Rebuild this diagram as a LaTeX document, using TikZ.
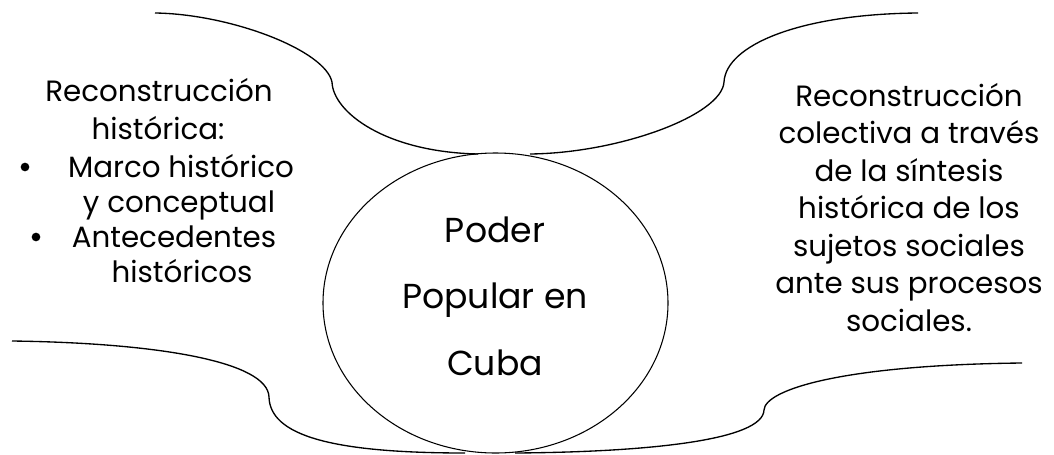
\documentclass[tikz,border=0pt]{standalone}
\usepackage{fontspec}
\setmainfont{Poppins}
\usetikzlibrary{shapes.geometric}
\tikzset{
    brace/.style={line width=1pt},
    txt/.style={anchor=base,inner sep=0pt,font=\fontsize{22}{27}\selectfont},
    bigtxt/.style={txt,font=\fontsize{26}{32}\selectfont},
    dot/.style={circle,fill,inner sep=0pt,minimum size=6.5pt},
}
\begin{document}
\begin{tikzpicture}[x=0.75pt,y=-0.75pt]
    \useasboundingbox (0,0) rectangle (1054,454);
    \node[ellipse,draw,line width=0.8pt,inner sep=0pt,minimum width=258.75pt,minimum height=225pt] (cuba) at (495.5,303) {} ;

    % braces
    \draw[brace] (155,13) .. controls (230,14) and (325,50) .. (332,82) .. controls (333,112) and (385,152) .. (478,154) ;
    \draw[brace] (530,154) .. controls (620,153) and (722,115) .. (724,82) .. controls (726,45) and (800,14) .. (918,13) ;
    \draw[brace] (12,341) .. controls (160,343) and (268,362) .. (269,397) .. controls (270,435) and (330,453) .. (465,453) ;
    \draw[brace] (515,453) .. controls (650,452) and (763,440) .. (764,410) .. controls (765,390) and (840,365) .. (1022,363) ;

    % center
    \node[bigtxt] (poder) at (495,242) {Poder} ;
    \node[bigtxt] (popular) at (495,308) {Popular en} ;
    \node[bigtxt] (cubatxt) at (495,375) {Cuba} ;

    % left
    \node[txt] (lhead1) at (159,101) {Reconstrucción} ;
    \node[txt] (lhead2) at (158,139) {histórica:} ;
    \node[dot] (bul1) at (25,167) {} ;
    \node[txt] (item1a) at (181,177) {Marco histórico} ;
    \node[txt] (item1b) at (179,212) {y conceptual} ;
    \node[dot] (bul2) at (36,237) {} ;
    \node[txt] (item2a) at (174,247) {Antecedentes} ;
    \node[txt] (item2b) at (182,282) {históricos} ;

    % right
    \node[txt] (r1) at (909,106) {Reconstrucción} ;
    \node[txt] (r2) at (909,143.5) {colectiva a través} ;
    \node[txt] (r3) at (909,181) {de la síntesis} ;
    \node[txt] (r4) at (909,218.5) {histórica de los} ;
    \node[txt] (r5) at (909,256) {sujetos sociales} ;
    \node[txt] (r6) at (909,293.5) {ante sus procesos} ;
    \node[txt] (r7) at (909,331) {sociales.} ;
\end{tikzpicture}
\end{document}
